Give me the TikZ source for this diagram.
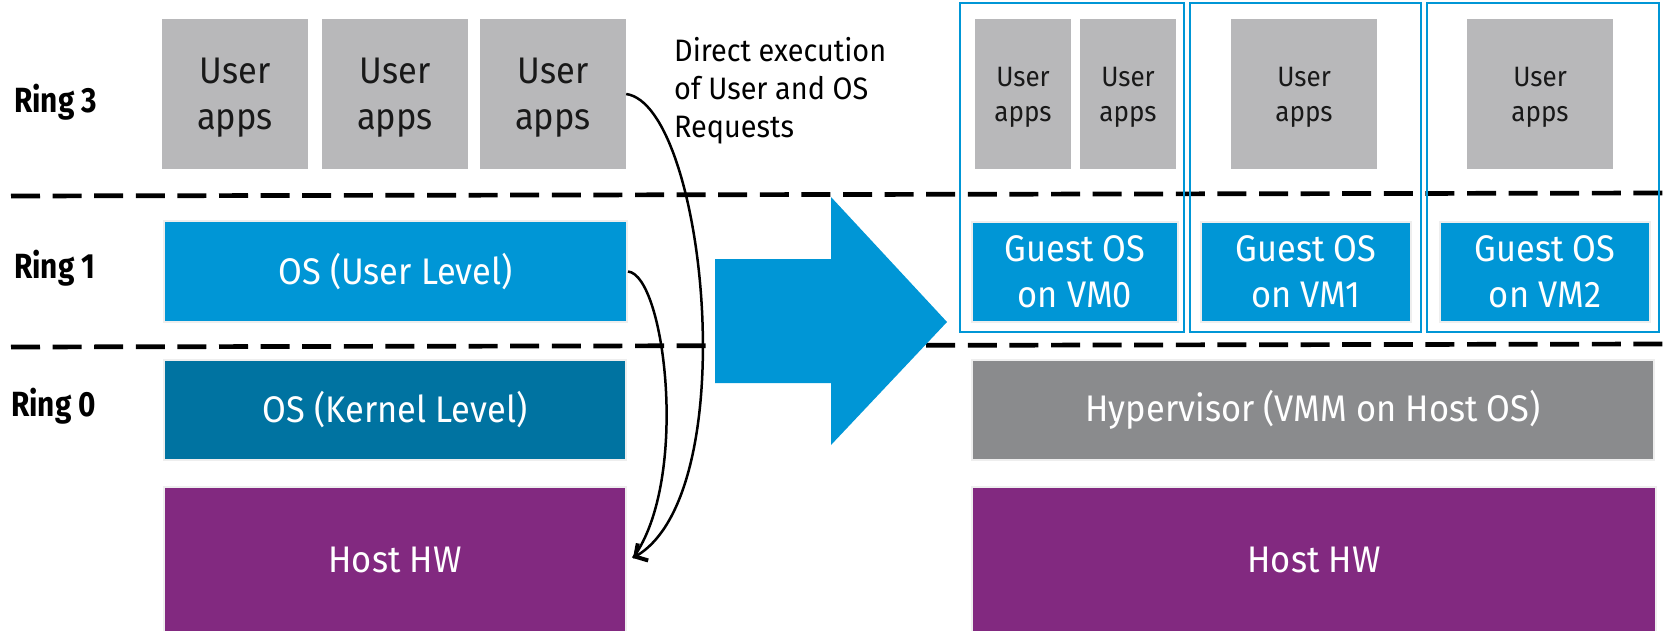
\documentclass[tikz,border=0pt]{standalone}
\usepackage{fontspec}
\setmainfont{Fira Sans}[FakeStretch=0.93]
\newfontfamily\ringfont{Fira Sans}[FakeStretch=0.85,UprightFont=* Bold]
\usetikzlibrary{arrows.meta}
\definecolor{appgray}{HTML}{B8B8BA}
\definecolor{hpblue}{HTML}{0096D6}
\definecolor{kernblue}{HTML}{0073A1}
\definecolor{hwpurple}{HTML}{822980}
\definecolor{vmmgray}{HTML}{8A8B8D}
\definecolor{edgegray}{HTML}{EEEEEE}
\begin{document}
\begin{tikzpicture}[x=1pt,y=-1pt,
  appbox/.style={fill=appgray, inner sep=0pt, align=center, text=black!90,
    text depth=-3pt, font=\fontsize{37}{46}\selectfont},
  vmapp/.style={appbox, text depth=-5pt, font=\fontsize{28}{35}\selectfont},
  layer/.style={draw=edgegray, line width=2pt, inner sep=0pt, align=center,
    text=white, font=\fontsize{37}{46}\selectfont},
  ringlbl/.style={anchor=west, inner sep=0pt, font=\ringfont\fontsize{35}{35}\selectfont},
  vmframe/.style={draw=hpblue, line width=2pt},
  ringline/.style={line width=4.7pt, dash pattern=on 29pt off 12.6pt},
  flow/.style={line width=2.5pt},
]
\useasboundingbox (0,0) rectangle (1669,631);

% ---- native stack ----
\node[appbox, minimum width=146, minimum height=150] (app1) at (235,94) {User\\apps};
\node[appbox, minimum width=146, minimum height=150] (app2) at (395,94) {User\\apps};
\node[appbox, minimum width=146, minimum height=150] (app3) at (553,94) {User\\apps};
\node[layer, fill=hpblue, minimum width=463, minimum height=101] (osu) at (395.5,271.5) {OS (User Level)};
\node[layer, fill=kernblue, minimum width=462, minimum height=100] (osk) at (395,410) {OS (Kernel Level)};
\node[layer, fill=hwpurple, minimum width=462, minimum height=146] (hw) at (395,560) {Host HW};

% ---- virtualised stack ----
\node[vmapp, minimum width=96, minimum height=150] (va0) at (1023,94) {User\\apps};
\node[vmapp, minimum width=96, minimum height=150] (vb0) at (1128,94) {User\\apps};
\node[vmapp, minimum width=146, minimum height=150] (va1) at (1304,94) {User\\apps};
\node[vmapp, minimum width=146, minimum height=150] (va2) at (1540,94) {User\\apps};
\node[layer, fill=hpblue, minimum width=206, minimum height=100] (g0) at (1075,272) {Guest OS\\on VM0};
\node[layer, fill=hpblue, minimum width=210, minimum height=100] (g1) at (1306,272) {Guest OS\\on VM1};
\node[layer, fill=hpblue, minimum width=210, minimum height=100] (g2) at (1545,272) {Guest OS\\on VM2};
\node[layer, fill=vmmgray, minimum width=682, minimum height=100] (vmm) at (1313,410) {Hypervisor (VMM on Host OS)};
\node[layer, fill=hwpurple, minimum width=684, minimum height=146] (hw2) at (1314,560) {Host HW};

% ring separators
\draw[ringline] (11,196) -- (1669,193);
\draw[ringline] (11,347) -- (1669,344);

% VM frames
\draw[vmframe] (960,3) rectangle (1184,332);
\draw[vmframe] (1190,3) rectangle (1421,332);
\draw[vmframe] (1427,3) rectangle (1659,332);

% transition arrow
\fill[hpblue] (715,259) -- (831,259) -- (831,197) -- (947,322) -- (831,445)
  -- (831,383) -- (715,383) -- cycle;

% ring labels
\node[ringlbl] (r3) at (14,102) {Ring 3};
\node[ringlbl] (r1) at (14,268) {Ring 1};
\node[ringlbl] (r0) at (11,406) {Ring 0};

% direct execution paths
\node[anchor=north west, inner sep=0pt, align=left,
  font=\fontsize{31}{38}\selectfont] (note) at (674,37)
  {Direct execution\\of User and OS\\Requests};
\coordinate (hwin) at ([xshift=6pt,yshift=2pt]hw.east);
\draw[flow, -{Straight Barb[length=9pt,width=20pt,line width=4pt]}]
  (app3.east) .. controls (705,105) and (745,490) .. (hwin);
\draw[flow] (osu.east) .. controls (665,275) and (690,480) .. (hwin);
\end{tikzpicture}
\end{document}
